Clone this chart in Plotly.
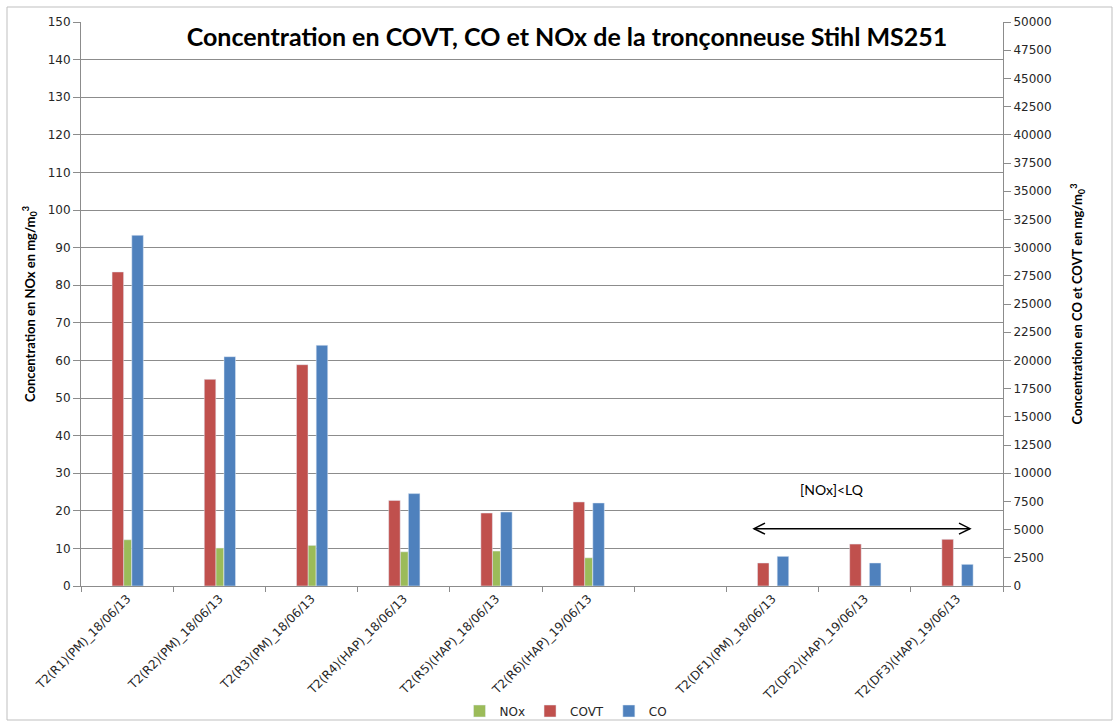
import plotly.graph_objects as go

categories = [
    "T2(R1)(PM)_18/06/13",
    "T2(R2)(PM)_18/06/13",
    "T2(R3)(PM)_18/06/13",
    "T2(R4)(HAP)_18/06/13",
    "T2(R5)(HAP)_18/06/13",
    "T2(R6)(HAP)_19/06/13",
    " ",
    "T2(DF1)(PM)_18/06/13",
    "T2(DF2)(HAP)_19/06/13",
    "T2(DF3)(HAP)_19/06/13",
]
nox = [12.3, 10.1, 10.8, 9.1, 9.3, 7.5, None, None, None, None]
covt = [27840, 18320, 19620, 7590, 6470, 7450, None, 2040, 3720, 4140]
co = [31090, 20330, 21340, 8190, 6560, 7360, None, 2630, 2040, 1920]

left_ticks = list(range(0, 151, 10))
right_ticks = list(range(0, 50001, 2500))

GREEN = "#9BBB59"
RED = "#C0504D"
BLUE = "#4F81BD"
GRID = "#8C8C8C"
AXIS = "#8C8C8C"
TICKFONT = dict(family="DejaVu Sans", size=12, color="#262626")

# plot area in pixels
W, H = 1119, 726
L, R, T, B = 81, 1003, 22, 586


def px(x):
    return (x - L) / (R - L)


def py(y):
    return (B - y) / (B - T)


fig = go.Figure()
fig.add_trace(go.Bar(x=categories, y=covt, name="COVT", marker_color=RED,
                     offset=-0.163, width=0.125, yaxis="y2", legendrank=2))
fig.add_trace(go.Bar(x=categories, y=nox, name="NOx", marker_color=GREEN,
                     offset=-0.038, width=0.087, yaxis="y", legendrank=1))
fig.add_trace(go.Bar(x=categories, y=co, name="CO", marker_color=BLUE,
                     offset=0.051, width=0.125, yaxis="y2", legendrank=3))

fig.update_layout(
    width=W, height=H,
    margin=dict(l=L, r=W - R, t=T, b=H - B, autoexpand=False),
    paper_bgcolor="white", plot_bgcolor="white",
    barmode="overlay",
    title=dict(text="<b>Concentration en COVT, CO et NOx de la tronçonneuse Stihl MS251</b>",
               font=dict(family="Lato", size=25, color="black"),
               x=567 / W, xanchor="center", y=1 - 37 / H, yanchor="middle",
               xref="container", yref="container"),
    xaxis=dict(categoryorder="array", categoryarray=categories, type="category",
               showline=True, linecolor=AXIS, linewidth=1,
               ticks="outside", tickson="boundaries", ticklen=5, tickcolor=AXIS,
               tickangle=-45, tickfont=TICKFONT, showgrid=False, range=[-0.5, 9.5]),
    yaxis=dict(range=[0, 150], tickvals=left_ticks, showline=True, linecolor=AXIS,
               ticks="outside", ticklen=7, tickcolor=AXIS, tickfont=TICKFONT,
               showgrid=True, gridcolor=GRID, gridwidth=1, zeroline=False,
               title=dict(text="<b>Concentration en NOx en mg/m<sub>0</sub><sup>3</sup></b>",
                          font=dict(family="Lato", size=13, color="black"), standoff=9)),
    yaxis2=dict(range=[0, 50000], tickvals=right_ticks, tickformat="d", overlaying="y",
                side="right", showline=True, linecolor=AXIS, ticks="outside", ticklen=7,
                tickcolor=AXIS, tickfont=TICKFONT, showgrid=False, zeroline=False,
                title=dict(text="<b>Concentration en CO et COVT en mg/m<sub>0</sub><sup>3</sup></b>",
                           font=dict(family="Lato", size=13, color="black"), standoff=22)),
    legend=dict(orientation="h", x=px(566), xanchor="center", y=py(711), yanchor="middle",
                font=dict(family="DejaVu Sans", size=12, color="#262626"),
                traceorder="normal", itemwidth=30, bgcolor="rgba(0,0,0,0)"),
)

# double arrow "[NOx]<LQ"
ax0, ax1, ay = 754, 970, 528.7
shapes = [
    dict(type="line", xref="paper", yref="paper", x0=px(ax0), x1=px(ax1), y0=py(ay), y1=py(ay),
         line=dict(color="black", width=1.5)),
    dict(type="path", xref="paper", yref="paper",
         path=f"M {px(ax0+11)} {py(ay-5.5)} L {px(ax0)} {py(ay)} L {px(ax0+11)} {py(ay+5.5)}",
         line=dict(color="black", width=1.5)),
    dict(type="path", xref="paper", yref="paper",
         path=f"M {px(ax1-11)} {py(ay-5.5)} L {px(ax1)} {py(ay)} L {px(ax1-11)} {py(ay+5.5)}",
         line=dict(color="black", width=1.5)),
    dict(type="rect", xref="paper", yref="paper", x0=px(7), x1=px(1112), y0=py(720), y1=py(7),
         line=dict(color="#BFBFBF", width=1), layer="below"),
]
fig.update_layout(shapes=shapes)
fig.add_annotation(text="[NOx]<LQ", xref="paper", yref="paper", x=px(866), y=py(500),
                   showarrow=False, font=dict(family="Lato", size=14, color="black"))

fig.write_html("out.html", config={"displayModeBar": False},
               post_script="document.body.style.margin='0';document.body.style.overflow='hidden';")
